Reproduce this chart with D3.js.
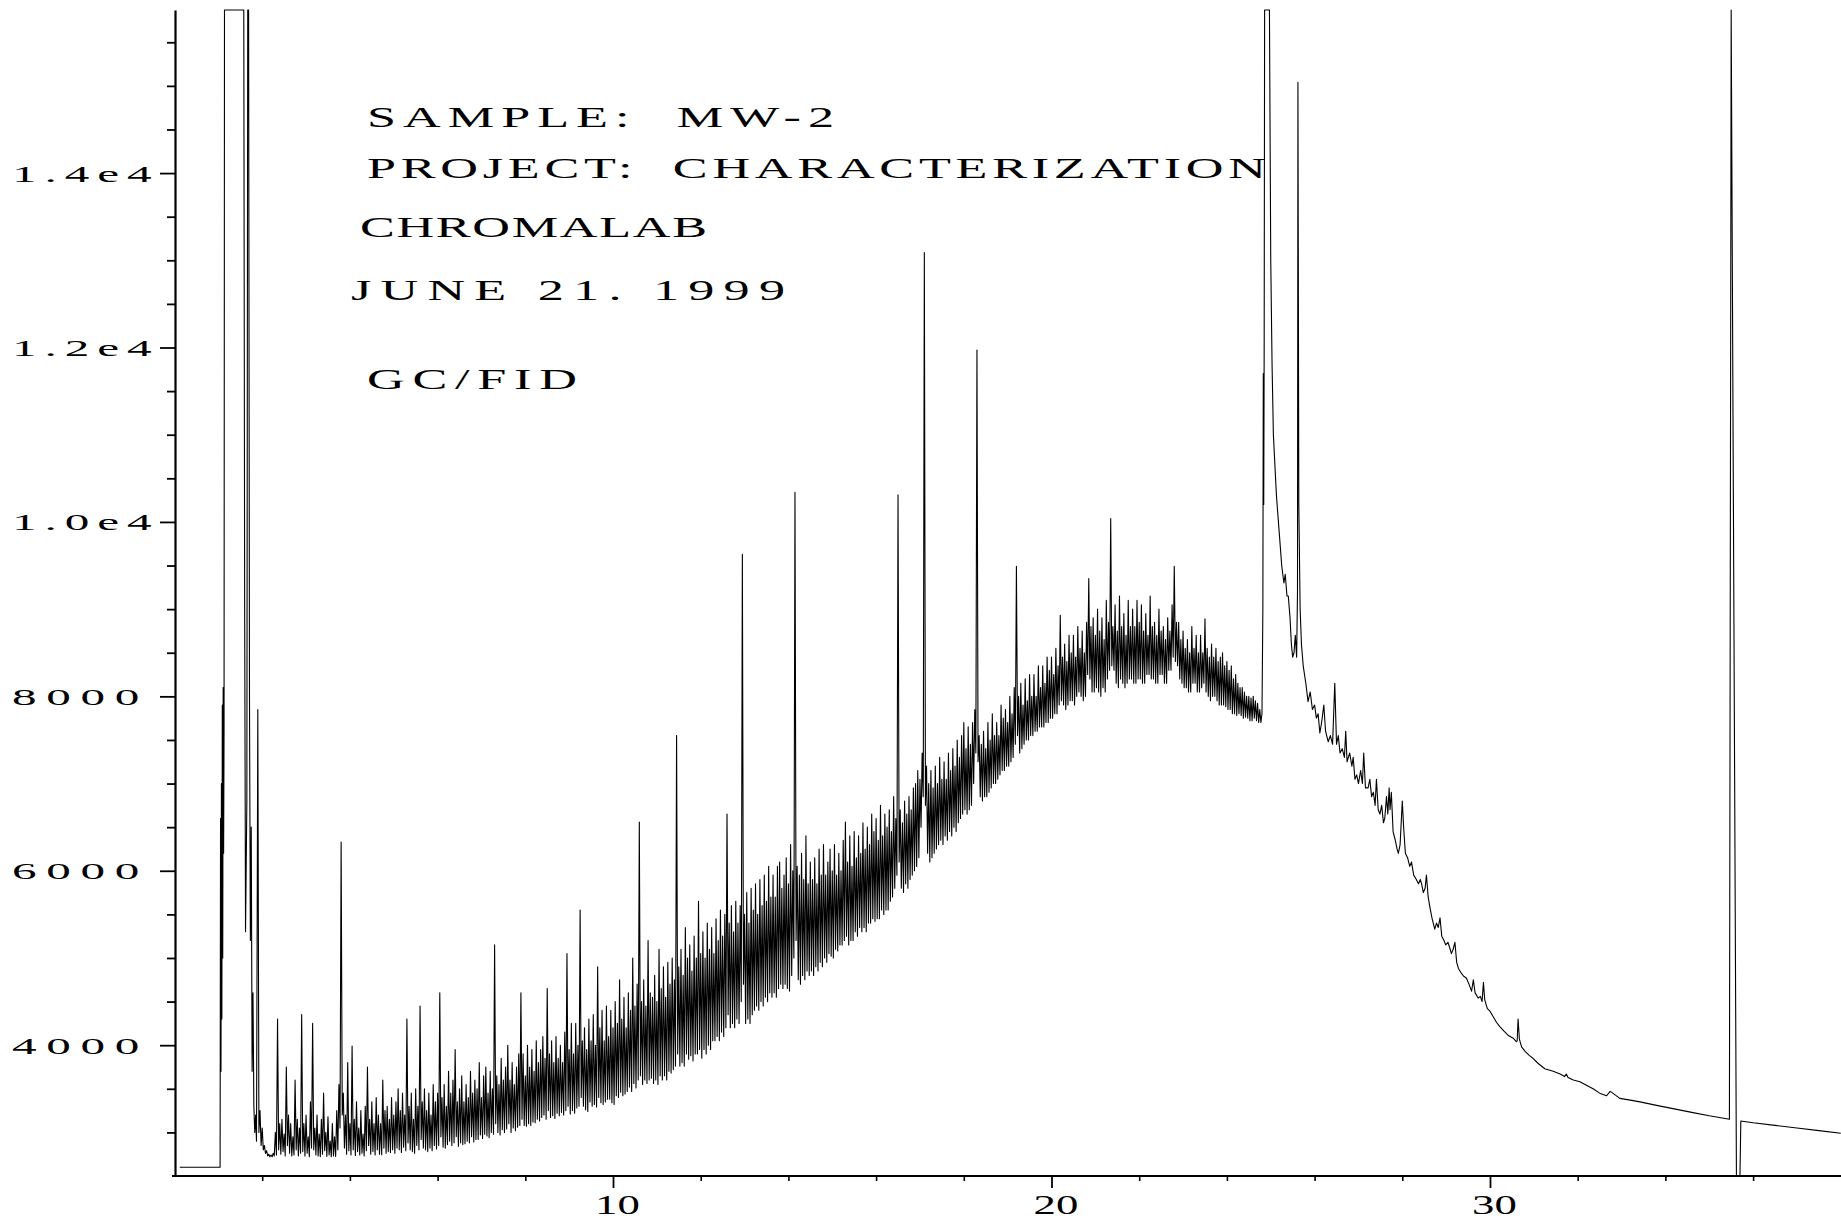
<!DOCTYPE html>
<html>
<head>
<meta charset="utf-8">
<script src="https://cdn.jsdelivr.net/npm/d3@7"></script>
<style>
  html, body { margin: 0; padding: 0; background: #fff; }
  svg { display: block; }
  .plotter-text { font-family: "Liberation Serif", "DejaVu Serif", serif; fill: #000; white-space: pre; }
</style>
</head>
<body>
<svg id="chart" width="1841" height="1220"></svg>
<script>
// ---- Chromatogram data (retention time in minutes, detector response in counts) ----

// Solvent / injection region: flat start, saturated solvent peaks
const injectionTime = [0.12, 1.04, 1.05, 1.06, 1.07, 1.08, 1.09, 1.10, 1.11, 1.12, 1.13, 1.14,
  1.58, 1.60, 1.62, 1.65, 1.67, 1.69, 1.71, 1.73, 1.75, 1.77, 1.79, 1.81, 1.83, 1.85, 1.87];
const injectionSignal = [2600, 2600, 6600, 3700, 7000, 4300, 7900, 5000, 8100, 6200, 7600, 15870,
  15870, 9000, 5300, 6800, 15870, 15870, 8000, 5200, 6500, 3700, 4600, 3300, 3000, 3200, 2900];

// Unresolved hydrocarbon hump, sampled every 0.025 min from 1.90 min (two lines per minute)
const humpStart = 1.90;
const humpStep = 0.025;
const humpSignal = [
  7850, 3000, 3250, 2850, 3050, 2800, 2850, 2760, 2790, 2730, 2750, 2720, 2740, 2720, 2760, 2730, 3000, 2740, 4300, 2800,
  3100, 2750, 3150, 2780, 2980, 2730, 3750, 2850, 3200, 2760, 3100, 2730, 2950, 2740, 3600, 2800, 3150, 2730, 3050, 2760,
  4350, 2780, 3100, 2730, 3200, 2760, 2950, 2720, 3350, 2820, 4250, 2800, 3050, 2740, 3200, 2730, 2980, 2720, 3150, 2750,
  3450, 2790, 3000, 2725, 3180, 2740, 2900, 2720, 3100, 2730, 2950, 2725, 3250, 2800, 3550, 3050, 6330, 3200, 3450, 2820,
  3200, 2750, 3800, 2790, 3100, 2740, 3990, 2800, 3150, 2735, 3350, 2780, 3050, 2740, 3250, 2760, 2980, 2730, 3300, 2790,
  3750, 2850, 3150, 2750, 3350, 2780, 3100, 2740, 3400, 2800, 3200, 2750, 3100, 2745, 3600, 2820, 3250, 2760, 3300, 2780,
  3150, 2770, 3400, 2800, 3200, 2760, 3350, 2820, 3500, 2800, 3250, 2770, 3450, 2830, 3200, 2790, 4300, 2880, 3300, 2800,
  3450, 2780, 3150, 2760, 3500, 2850, 3300, 2800, 4450, 2920, 3350, 2820, 3500, 2800, 3250, 2780, 3450, 2820, 3200, 2790,
  3550, 2850, 3350, 2810, 3450, 2850, 4600, 2950, 3400, 2830, 3550, 2820, 3300, 2860, 3700, 2900, 3450, 2850, 3600, 2880,
  3950, 2950, 3350, 2840, 3500, 2880, 3650, 2860, 3350, 2870, 3550, 2900, 3400, 2880, 3700, 2950, 3450, 2890, 3600, 2920,
  3500, 2920, 3800, 2970, 3400, 2930, 3650, 2980, 3750, 2960, 3450, 2940, 3700, 3000, 3500, 2980, 5150, 3100, 3650, 3000,
  3550, 2970, 3850, 3030, 3600, 3000, 3750, 3040, 4000, 3100, 3600, 3000, 3800, 3050, 3550, 3020, 3750, 3060, 3900, 3080,
  4600, 3150, 3900, 3080, 3650, 3070, 4000, 3100, 3750, 3080, 3950, 3120, 3700, 3110, 4050, 3150, 3800, 3130, 3950, 3170,
  4100, 3200, 3850, 3150, 4650, 3250, 3900, 3170, 4050, 3190, 3800, 3160, 4100, 3220, 3850, 3190, 4000, 3230, 3800, 3200,
  4150, 3250, 5050, 3300, 3950, 3210, 4250, 3250, 3900, 3220, 4250, 3280, 4000, 3300, 5550, 3400, 4050, 3300, 4200, 3260,
  3950, 3240, 4300, 3350, 4050, 3300, 4350, 3320, 4000, 3290, 4900, 3400, 4200, 3340, 4400, 3320, 4050, 3350, 4450, 3380,
  4100, 3380, 4400, 3340, 4200, 3320, 4500, 3420, 4250, 3400, 4750, 3460, 4300, 3420, 4550, 3440, 4200, 3470, 4600, 3520,
  4400, 3470, 5000, 3560, 4450, 3510, 4700, 3600, 6560, 3650, 4500, 3550, 4750, 3600, 4450, 3560, 5200, 3600, 4600, 3620,
  4550, 3560, 4800, 3600, 4500, 3550, 5100, 3650, 4650, 3600, 4900, 3650, 4550, 3600, 4950, 3700, 4700, 3680, 5000, 3720,
  4750, 3760, 7550, 3900, 4900, 3760, 5100, 3800, 4800, 3760, 5350, 3900, 5000, 3840, 5150, 3880, 4850, 3820, 5250, 3900,
  5000, 3900, 5650, 3950, 5050, 3850, 5300, 3950, 5000, 3900, 5400, 4000, 5100, 3950, 5350, 4050, 5050, 4050, 5450, 4100,
  5200, 4050, 5550, 4150, 5250, 4100, 5500, 4200, 6650, 4350, 5400, 4200, 5600, 4250, 5300, 4200, 5650, 4300, 5400, 4250,
  5600, 4500, 9630, 4700, 5500, 4250, 5750, 4300, 5400, 4250, 5800, 4350, 5550, 4400, 5850, 4450, 5500, 4400, 5900, 4500,
  5600, 4450, 5950, 4550, 5650, 4500, 6050, 4600, 5700, 4550, 5950, 4600, 5700, 4550, 6050, 4650, 6100, 4700, 5800, 4650,
  5950, 4700, 6150, 4650, 5850, 4620, 6300, 4800, 6000, 5000, 10340, 5200, 6050, 4750, 5950, 4700, 6200, 4800, 5900, 4750,
  6400, 4850, 5850, 4800, 6100, 4850, 5900, 4800, 6150, 4900, 5850, 4850, 6250, 4950, 5950, 4900, 6300, 5000, 5950, 4950,
  6100, 5050, 6250, 5020, 6000, 5000, 6300, 5100, 5950, 5080, 6200, 5150, 6000, 5150, 6350, 5200, 6560, 5250, 6100, 5150,
  6400, 5200, 6050, 5200, 6450, 5300, 6150, 5250, 6400, 5350, 6200, 5300, 6550, 5350, 6250, 5300, 6500, 5400, 6300, 5400,
  6650, 5450, 6450, 5420, 6600, 5450, 6350, 5450, 6750, 5550, 6400, 5500, 6650, 5550, 6500, 5550, 6700, 5650, 6450, 5700,
  6850, 5800, 6600, 5950, 10310, 6100, 6700, 5800, 6550, 5750, 6800, 5850, 6650, 5800, 6850, 5900, 6700, 5950, 6950, 6000,
  7000, 6050, 7150, 6150, 7050, 6500, 7350, 6850, 13090, 6750, 7200, 6200, 7000, 6100, 7150, 6150, 6950, 6200, 7200, 6250,
  7000, 6300, 7300, 6350, 7050, 6300, 7250, 6400, 7050, 6350, 7350, 6450, 7150, 6400, 7400, 6500, 7200, 6450, 7500, 6550,
  7300, 6600, 7550, 6650, 7700, 6700, 7400, 6650, 7650, 6700, 7450, 6750, 7700, 7000, 7850, 7350, 11970, 7250, 7550, 6850,
  7450, 6800, 7600, 6850, 7400, 6850, 7700, 6900, 7500, 6950, 7800, 7000, 7550, 7000, 7700, 7050, 7550, 7100, 7900, 7150,
  7750, 7150, 7850, 7200, 7700, 7200, 8000, 7250, 7800, 7300, 8100, 7450, 9490, 7550, 8000, 7350, 8150, 7400, 7900, 7450,
  8200, 7500, 7950, 7500, 8250, 7550, 8000, 7550, 8250, 7600, 8000, 7600, 8350, 7650, 8100, 7650, 8350, 7650, 8150, 7700,
  8450, 7700, 8300, 7750, 8450, 7750, 8250, 7800, 8550, 7800, 8350, 7900, 8930, 7950, 8450, 7900, 8600, 7850, 8400, 7900,
  8700, 7950, 8500, 7950, 8700, 7900, 8450, 8000, 8800, 8050, 8550, 8000, 8750, 7950, 8500, 8000, 8850, 8250, 9350, 8200,
  8800, 8050, 8900, 8050, 8700, 8100, 9000, 8050, 8750, 8000, 8900, 8100, 8650, 8050, 9100, 8200, 8850, 8300, 10040, 8350,
  8800, 8300, 9050, 8150, 8750, 8100, 9150, 8200, 8800, 8150, 8950, 8100, 8700, 8150, 9100, 8200, 8800, 8200, 9000, 8150,
  8800, 8150, 9100, 8200, 8850, 8200, 9050, 8150, 8750, 8150, 8950, 8250, 8700, 8250, 9150, 8200, 8800, 8200, 8850, 8150,
  8700, 8150, 9000, 8250, 8750, 8250, 8800, 8150, 8650, 8150, 8900, 8300, 8750, 8300, 9050, 8450, 9490, 8400, 8850, 8350,
  8850, 8200, 8650, 8150, 8750, 8100, 8550, 8100, 8650, 8050, 8500, 8050, 8800, 8150, 8550, 8150, 8700, 8050, 8500, 8050,
  8700, 8100, 8500, 8150, 8890, 8050, 8550, 8000, 8450, 7950, 8600, 8000, 8450, 8000, 8550, 7950, 8400, 7900, 8450, 7900,
  8500, 7900, 8350, 7880, 8400, 7850, 8300, 7850, 8350, 7800, 8200, 7800, 8250, 7780, 8150, 7800, 8100, 7780, 8100, 7750,
  8050, 7760, 8000, 7750, 8000, 7720, 7980, 7720, 8000, 7750, 7950, 7720, 7920, 7700, 7850, 7700, 7800
];

// Late eluting peaks, decaying tail and the final pressure spike
const lateTime = [24.82, 24.83, 24.84, 24.85, 24.86, 24.97, 25.00, 25.03, 25.06, 25.13, 25.19, 25.25, 25.30, 25.33,
  25.37, 25.40, 25.44, 25.47, 25.50, 25.53, 25.56, 25.59, 25.61, 25.62, 25.64, 25.67, 25.70, 25.74, 25.80, 25.85,
  25.90, 25.95, 26.00, 26.04, 26.08, 26.12, 26.16, 26.21, 26.25, 26.31, 26.36, 26.41, 26.46, 26.50, 26.54, 26.58,
  26.63, 26.68, 26.71, 26.74, 26.80, 26.85, 26.88, 26.92, 26.96, 27.00, 27.05, 27.09, 27.12, 27.16, 27.22, 27.26,
  27.30, 27.34, 27.38, 27.41, 27.45, 27.49, 27.53, 27.57, 27.60, 27.64, 27.67, 27.70, 27.72, 27.75, 27.79, 27.84,
  27.88, 27.91, 27.95, 28.00, 28.03, 28.07, 28.12, 28.17, 28.21, 28.26, 28.32, 28.37, 28.41, 28.44, 28.48, 28.52,
  28.55, 28.59, 28.63, 28.68, 28.74, 28.78, 28.82, 28.86, 28.90, 28.95, 28.99, 29.04, 29.08, 29.12, 29.16, 29.20,
  29.24, 29.28, 29.34, 29.40, 29.46, 29.52, 29.58, 29.62, 29.66, 29.73, 29.78, 29.82, 29.85, 29.88, 29.94, 30.00,
  30.08, 30.15, 30.23, 30.32, 30.42, 30.53, 30.60, 30.62, 30.64, 30.67, 30.72, 30.80, 30.90, 30.98, 31.10, 31.25,
  31.44, 31.60, 31.70, 31.74, 31.78, 31.90, 32.05, 32.20, 32.35, 32.50, 32.66, 32.74, 32.80, 32.96, 33.20, 33.42,
  33.80, 34.20, 34.60, 35.00, 35.46, 35.50, 35.62, 35.70, 35.72, 36.00, 36.50, 37.00, 37.50, 38.00];
const lateSignal = [9000, 11700, 10200, 12000, 15870, 15870, 13000, 11800, 11000, 10300, 9900, 9500, 9300, 9400,
  9150, 9150, 8900, 8600, 8450, 8500, 8700, 8450, 9200, 15040, 10200, 9000, 8600, 8350, 8150, 7940,
  8050, 7850, 7900, 7750, 7800, 7580, 7700, 7900, 7600, 7480, 7550, 7450, 8150, 7450, 7550, 7350,
  7400, 7300, 7600, 7250, 7350, 7200, 7300, 7050, 7100, 7000, 7150, 7000, 7350, 6950, 6950, 7050,
  6850, 6900, 6750, 7050, 6700, 6650, 6750, 6550, 6600, 6850, 6650, 6950, 6700, 6900, 6450, 6350,
  6250, 6200, 6300, 6800, 6500, 6200, 6150, 6050, 6100, 5950, 5900, 5850, 5900, 5850, 5750, 5800,
  5950, 5700, 5580, 5450, 5330, 5400, 5350, 5460, 5250, 5200, 5150, 5180, 5120, 5050, 5100, 5180,
  4950, 4880, 4830, 4790, 4770, 4700, 4620, 4750, 4600, 4540, 4560, 4500, 4720, 4520, 4420, 4390,
  4320, 4260, 4210, 4160, 4110, 4080, 4040, 4050, 4300, 4070, 3980, 3930, 3880, 3850, 3790, 3730,
  3700, 3670, 3640, 3670, 3630, 3600, 3580, 3540, 3500, 3450, 3420, 3470, 3450, 3390, 3370, 3350,
  3310, 3270, 3230, 3190, 3150, 15870, 2480, 2480, 3130, 3110, 3080, 3050, 3020, 2990];

// Axis ticks and labels
const yMajorTicks = [4000, 6000, 8000, 10000, 12000, 14000];
const yTickLabels = ["4000", "6000", "8000", "1.0e4", "1.2e4", "1.4e4"];
const yMinorTicks = [3000, 3500, 4500, 5000, 5500, 6500, 7000, 7500, 8500, 9000, 9500,
  10500, 11000, 11500, 12500, 13000, 13500, 14500, 15000, 15500];
const xMajorTicks = [10, 20, 30];
const xTickLabels = ["10", "20", "30"];
const xMinorTicks = [2, 4, 6, 8, 12, 14, 16, 18, 22, 24, 26, 28, 32, 34, 36];

// Run annotation printed on the plot
const annotationLines = ["SAMPLE:  MW-2", "PROJECT:  CHARACTERIZATION", "CHROMALAB", "JUNE 21. 1999", "GC/FID"];

// ---- Layout ----
const width = 1841, height = 1220;
const axisX = 175, axisY = 1176;
const annotationLayout = [
  { left: 367, baseline: 127, span: 467 },
  { left: 367, baseline: 178, span: 899 },
  { left: 360, baseline: 237, span: 347 },
  { left: 351, baseline: 300, span: 434 },
  { left: 367, baseline: 389, span: 210 }
];

const x = d3.scaleLinear().domain([0, 38]).range([174.5, 1840.8]);
const y = d3.scaleLinear().domain([2500, 15870]).range([axisY, 10]);

const svg = d3.select("#chart");
svg.append("rect").attr("width", width).attr("height", height).attr("fill", "#fff");

// Assemble the trace in time order
const trace = [];
injectionTime.forEach((t, i) => trace.push([t, injectionSignal[i]]));
humpSignal.forEach((v, i) => trace.push([+(humpStart + i * humpStep).toFixed(3), v]));
lateTime.forEach((t, i) => trace.push([t, lateSignal[i]]));

svg.append("defs").append("clipPath").attr("id", "plot-clip")
  .append("rect").attr("x", axisX - 2).attr("y", 0).attr("width", width - axisX + 2).attr("height", axisY + 1);

const line = d3.line().x(d => x(d[0])).y(d => y(d[1]));
svg.append("path")
  .datum(trace)
  .attr("clip-path", "url(#plot-clip)")
  .attr("d", line)
  .attr("fill", "none")
  .attr("stroke", "#000")
  .attr("stroke-width", 1.1)
  .attr("stroke-linejoin", "round");

// ---- Y axis ----
const yMinorAxis = svg.append("g").attr("transform", `translate(${axisX},0)`)
  .call(d3.axisLeft(y).tickValues(yMinorTicks).tickSize(8).tickSizeOuter(0).tickFormat(""));
yMinorAxis.select(".domain").remove();

const yAxis = svg.append("g").attr("transform", `translate(${axisX},0)`)
  .call(d3.axisLeft(y).tickValues(yMajorTicks).tickSize(15).tickSizeOuter(0)
    .tickFormat((d, i) => yTickLabels[i]));

svg.selectAll("g.tick line").attr("stroke", "#000").attr("stroke-width", 1.8);
yAxis.select(".domain").attr("stroke", "#000").attr("stroke-width", 2.2);

const yLabelScale = 2.05, yLabelStretch = 2.65;
yAxis.selectAll("text")
  .attr("class", "plotter-text")
  .attr("font-size", 24)
  .attr("text-anchor", "start")
  .attr("dy", 0)
  .attr("y", 8)
  .each(function () {
    const natural = this.getComputedTextLength();
    d3.select(this)
      .attr("transform", `scale(${yLabelScale},1)`)
      .attr("x", (12 - axisX) / yLabelScale)
      .attr("textLength", natural * yLabelStretch / yLabelScale)
      .attr("lengthAdjust", "spacing");
  });

// ---- X axis ----
const xMinorAxis = svg.append("g").attr("transform", `translate(0,${axisY})`)
  .call(d3.axisBottom(x).tickValues(xMinorTicks).tickSize(5).tickSizeOuter(0).tickFormat(""));
xMinorAxis.select(".domain").remove();
xMinorAxis.selectAll("line").attr("stroke", "#000").attr("stroke-width", 1.6);

const xAxis = svg.append("g").attr("transform", `translate(0,${axisY})`)
  .call(d3.axisBottom(x).tickValues(xMajorTicks).tickSize(12).tickSizeOuter(0)
    .tickFormat((d, i) => xTickLabels[i]));
xAxis.select(".domain").attr("d", `M${axisX - 3},0H${width}`).attr("stroke", "#000").attr("stroke-width", 2.2);
xAxis.selectAll("line").attr("stroke", "#000").attr("stroke-width", 1.8);

const xLabelScale = 1.6;
xAxis.selectAll("text")
  .attr("class", "plotter-text")
  .attr("font-size", 28)
  .attr("text-anchor", "middle")
  .attr("dy", 0)
  .attr("y", 38)
  .attr("transform", `scale(${xLabelScale},1)`)
  .attr("x", 4 / xLabelScale);

// ---- Annotation block ----
const titleScale = 1.8;
svg.append("g").selectAll("text")
  .data(annotationLines)
  .join("text")
  .attr("class", "plotter-text")
  .attr("xml:space", "preserve")
  .attr("font-size", 29)
  .attr("transform", `scale(${titleScale},1)`)
  .attr("x", (d, i) => annotationLayout[i].left / titleScale)
  .attr("y", (d, i) => annotationLayout[i].baseline)
  .attr("textLength", (d, i) => annotationLayout[i].span / titleScale)
  .attr("lengthAdjust", "spacing")
  .text(d => d);
</script>
</body>
</html>
